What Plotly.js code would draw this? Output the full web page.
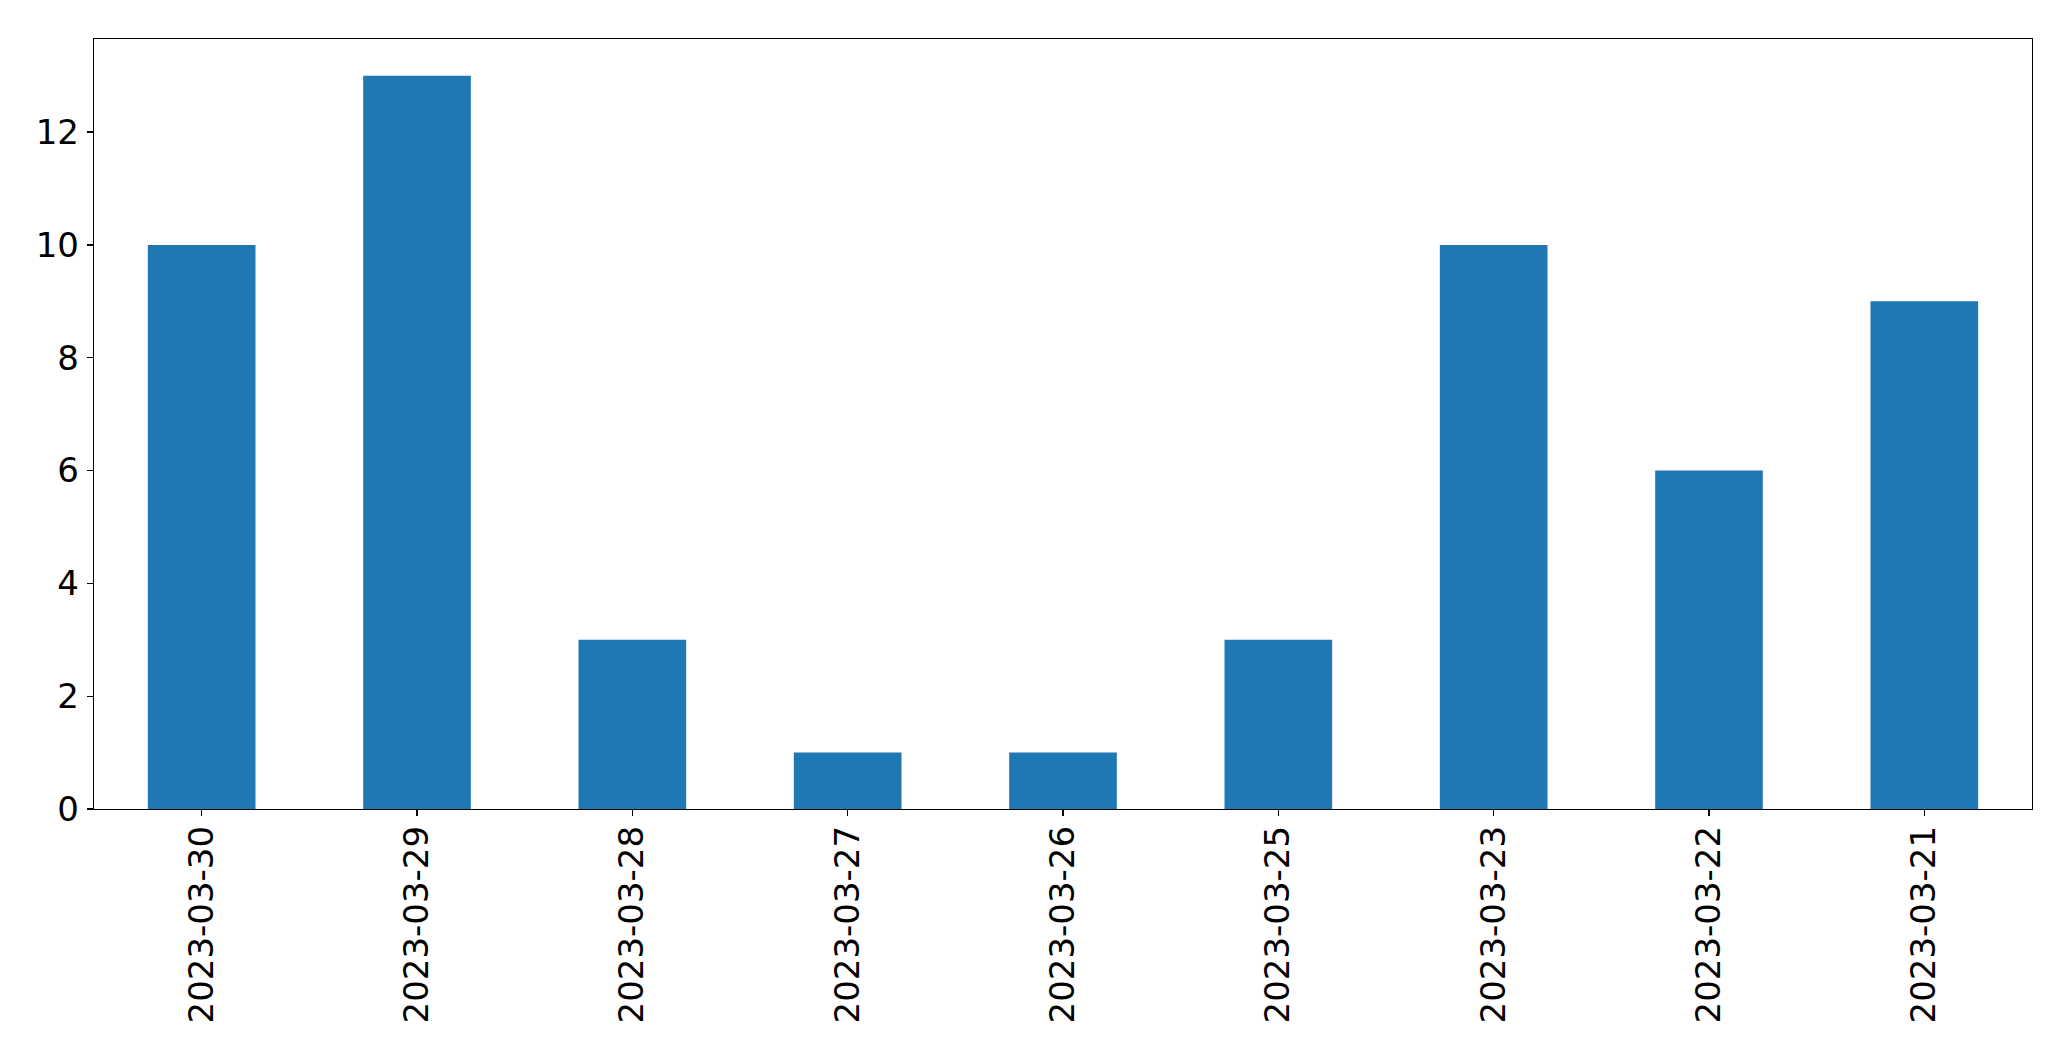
<!DOCTYPE html>
<html>
<head>
<meta charset="utf-8">
<script src="https://cdn.plot.ly/plotly-3.0.1.min.js"></script>
<style>html,body{margin:0;padding:0;background:#fff;}#chart{width:2071px;height:1061px;}</style>
</head>
<body>
<div id="chart"></div>
<script>
const dates = ["2023-03-30","2023-03-29","2023-03-28","2023-03-27","2023-03-26","2023-03-25","2023-03-23","2023-03-22","2023-03-21"];
const counts = [10, 13, 3, 1, 1, 3, 10, 6, 9];
const yTicks = [0, 2, 4, 6, 8, 10, 12];

const trace = {
  type: "bar",
  x: dates,
  y: counts,
  marker: {color: "#1f77b4", line: {width: 0}},
  hoverinfo: "x+y"
};

const axisCommon = {
  showline: true,
  linecolor: "#000",
  linewidth: 1.3,
  mirror: true,
  ticks: "outside",
  ticklen: 6,
  tickwidth: 1.3,
  tickcolor: "#000",
  showgrid: false,
  zeroline: false,
  tickfont: {family: "DejaVu Sans", size: 34, color: "#000"}
};

const layout = {
  width: 2071,
  height: 1061,
  margin: {l: 94, r: 39, t: 39, b: 252, pad: 0},
  paper_bgcolor: "#fff",
  plot_bgcolor: "#fff",
  bargap: 0.5,
  showlegend: false,
  xaxis: Object.assign({}, axisCommon, {
    type: "category",
    tickangle: -90,
    range: [-0.5, dates.length - 0.5],
    ticklabelstandoff: -4
  }),
  yaxis: Object.assign({}, axisCommon, {
    range: [0, 13.65],
    tickvals: yTicks,
    ticktext: yTicks.map(String),
    ticklabelstandoff: 1
  })
};

Plotly.newPlot("chart", [trace], layout, {displayModeBar: false, staticPlot: true});
</script>
</body>
</html>
